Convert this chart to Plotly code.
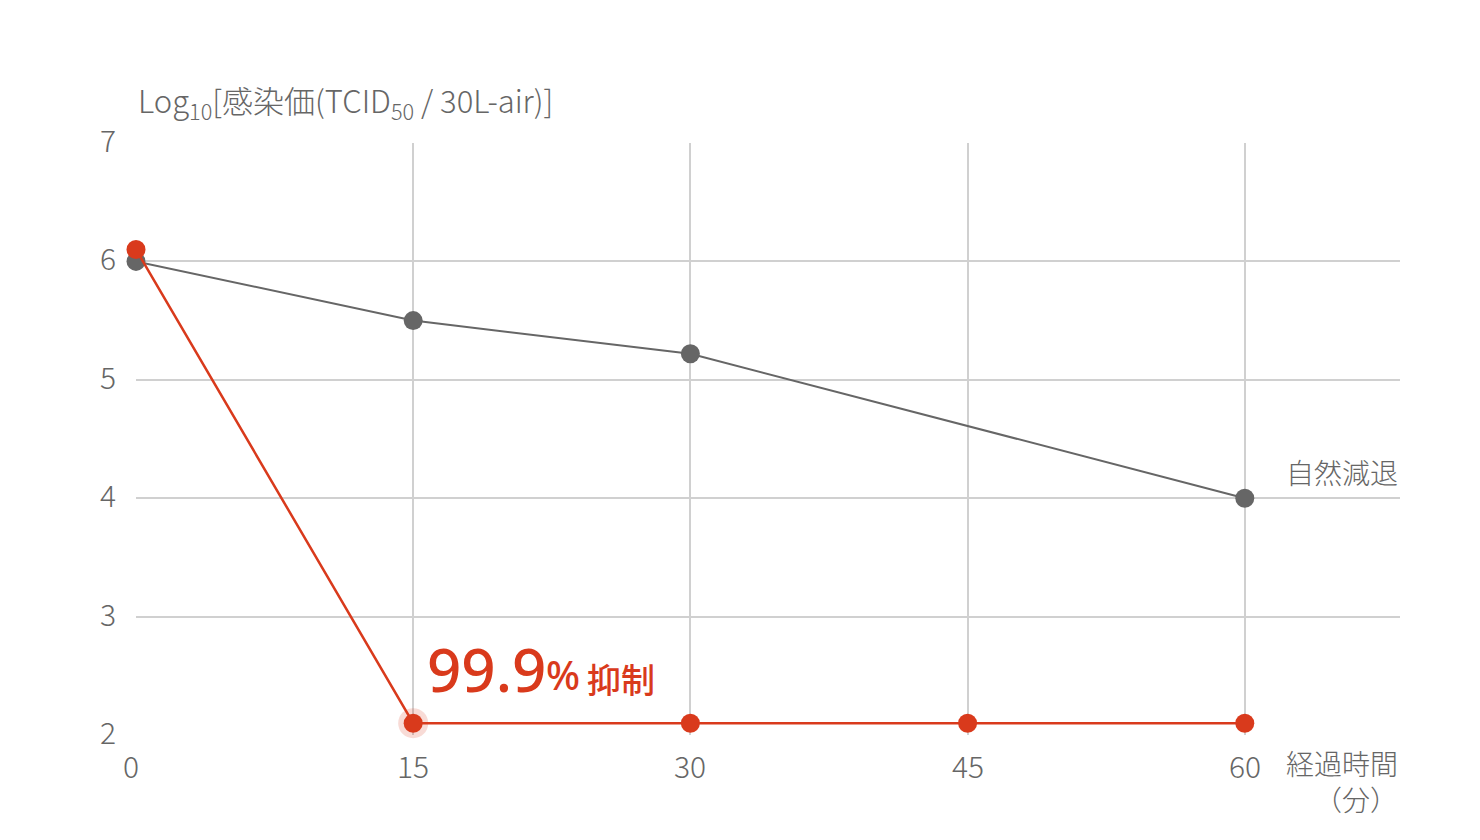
import plotly.graph_objects as go

minutes = [0, 15, 30, 45, 60]
natural_x = [0, 15, 30, 60]
natural_y = [6.0, 5.5, 5.22, 4.0]
treated_y = [6.1, 2.1, 2.1, 2.1, 2.1]
x_ticks = [0, 15, 30, 45, 60]
y_ticks = [2, 3, 4, 5, 6, 7]

RED = "#d93a1c"
GRAY = "#666666"
TXT = "#666666"
FONT = "Noto Sans CJK JP"
NUMFONT = "Noto Sans"

fig = go.Figure()

# halo at 15 min
fig.add_trace(go.Scatter(x=[minutes[1]], y=[treated_y[1]], mode="markers",
                         marker=dict(size=30, color="rgba(217,58,28,0.18)"),
                         cliponaxis=False, hoverinfo="skip", showlegend=False))

fig.add_trace(go.Scatter(x=natural_x, y=natural_y, mode="lines+markers",
                         line=dict(color=GRAY, width=2),
                         marker=dict(size=19, color=GRAY),
                         cliponaxis=False, showlegend=False))
fig.add_trace(go.Scatter(x=minutes, y=treated_y, mode="lines+markers",
                         line=dict(color=RED, width=2.5),
                         marker=dict(size=19, color=RED),
                         cliponaxis=False, showlegend=False))

fig.update_layout(
    width=1480, height=840,
    margin=dict(l=128, r=88, t=135, b=113),
    plot_bgcolor="white", paper_bgcolor="white",
    font=dict(family=FONT, color=TXT),
    xaxis=dict(range=[0, 68.4], tickvals=x_ticks[1:], showgrid=True,
               gridcolor="#d0d0d0", gridwidth=2, zeroline=False,
               showticklabels=False, fixedrange=True),
    yaxis=dict(range=[2, 7], tickvals=y_ticks, showgrid=True,
               gridcolor="#d0d0d0", gridwidth=2, zeroline=False,
               showticklabels=False, fixedrange=True),
)

# y tick labels
for v in y_ticks:
    fig.add_annotation(x=0, xref="paper", y=v, yref="y", text=str(v),
                       showarrow=False, xanchor="right", xshift=-18, yshift=4,
                       font=dict(size=30, color=TXT, family=FONT, weight=300))
# x tick labels
for v in x_ticks:
    fig.add_annotation(x=v, xref="x", y=0, yref="paper", text=str(v),
                       showarrow=False, yanchor="top", yshift=-6,
                       xshift=-5 if v == 0 else 0,
                       font=dict(size=30, color=TXT, family=FONT, weight=300))

# y axis title
fig.add_annotation(x=0, xref="paper", y=1, yref="paper",
                   text="Log<sub>10</sub>[感染価(TCID<sub>50</sub> / 30L-air)]",
                   showarrow=False, xanchor="left", yanchor="bottom", yshift=15,
                   font=dict(size=31, color=TXT, family=FONT, weight=300))

# series label
fig.add_annotation(x=1, xref="paper", y=4.0, yref="y", text="自然減退",
                   showarrow=False, xanchor="right", yanchor="bottom", yshift=4,
                   font=dict(size=28, color=TXT, family=FONT, weight=300))

# x axis title
fig.add_annotation(x=1, xref="paper", y=0, yref="paper", text="経過時間<br>（分）",
                   showarrow=False, xanchor="right", yanchor="top", yshift=-6,
                   align="right",
                   font=dict(size=28, color=TXT, family=FONT, weight=300))

# 99.9% annotation
fig.add_annotation(x=15, xref="x", y=2.1, yref="y", text="99.9",
                   showarrow=False, xanchor="left", yanchor="bottom",
                   xshift=12, yshift=11,
                   font=dict(size=60, color=RED, family=NUMFONT, weight=500))
fig.add_annotation(x=15, xref="x", y=2.1, yref="y", text="%",
                   showarrow=False, xanchor="left", yanchor="bottom",
                   xshift=131, yshift=19,
                   font=dict(size=40, color=RED, family=NUMFONT, weight=500))
fig.add_annotation(x=15, xref="x", y=2.1, yref="y", text="抑制",
                   showarrow=False, xanchor="left", yanchor="bottom",
                   xshift=172, yshift=18,
                   font=dict(size=34, color=RED, family=FONT, weight=500))

fig.write_html("out.html")
